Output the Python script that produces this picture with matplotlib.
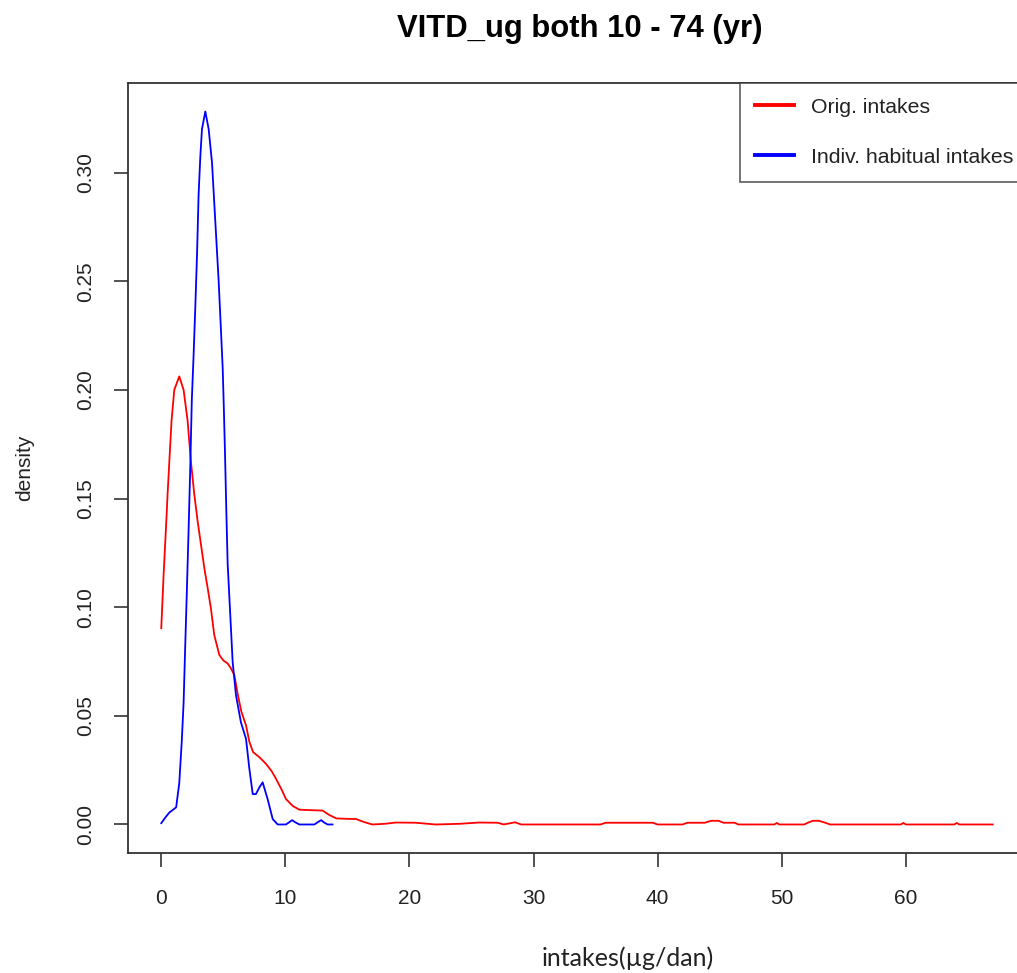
import matplotlib
matplotlib.use("Agg")
import matplotlib.pyplot as plt
from matplotlib.lines import Line2D

# ---- data ----
orig_x = [0.0, 0.19, 0.38, 0.51, 0.65, 0.83, 1.05, 1.45, 1.8, 2.12, 2.39, 2.66, 2.93,
          3.2, 3.47, 3.74, 4.0, 4.27, 4.68, 5.0, 5.35, 5.6, 5.89, 6.16, 6.45, 6.83,
          7.1, 7.4, 7.9, 8.44, 8.9, 9.25, 9.7, 10.05, 10.6, 11.13, 12.0, 13.0, 13.5,
          14.1, 15.0, 15.7, 16.3, 17.0, 18.0, 18.9, 20.5, 22.1, 24.0, 25.6, 27.1,
          27.6, 28.5, 29.0, 35.4, 35.8, 39.6, 40.0, 42.0, 42.4, 43.8, 44.3, 44.9,
          45.3, 46.2, 46.5, 49.4, 49.6, 49.8, 51.8, 52.1, 52.5, 53.0, 53.5, 53.9,
          59.6, 59.8, 60.0, 63.9, 64.1, 64.3, 67.0]
orig_y = [0.0903, 0.115, 0.1365, 0.152, 0.167, 0.186, 0.200, 0.2062, 0.200, 0.186, 0.167, 0.152, 0.1396,
          0.1288, 0.118, 0.1088, 0.0995, 0.0872, 0.078, 0.0755, 0.0741, 0.072, 0.0687, 0.060, 0.052, 0.0456,
          0.038, 0.0333, 0.031, 0.0279, 0.0245, 0.021, 0.016, 0.0117, 0.0085, 0.0068, 0.0066, 0.0064, 0.0045,
          0.0028, 0.0026, 0.0025, 0.0012, 0.0, 0.0003, 0.0009, 0.0008, 0.0, 0.0003, 0.0009, 0.0008,
          0.0, 0.001, 0.0, 0.0, 0.0008, 0.0008, 0.0, 0.0, 0.0008, 0.0008, 0.0017, 0.0017,
          0.0008, 0.0008, 0.0, 0.0, 0.0007, 0.0, 0.0, 0.0008, 0.0017, 0.0017, 0.0008, 0.0,
          0.0, 0.0007, 0.0, 0.0, 0.0007, 0.0, 0.0]

habit_x = [0.0, 0.3, 0.65, 1.0, 1.2, 1.45, 1.65, 1.8, 1.92, 2.05, 2.2, 2.34, 2.46, 2.6,
           2.74, 2.88, 3.01, 3.15, 3.28, 3.55, 3.82, 4.09, 4.35, 4.62, 4.81, 4.95, 5.05,
           5.14, 5.24, 5.35, 5.56, 5.75, 6.02, 6.42, 6.83, 7.1, 7.37, 7.63, 7.9, 8.17,
           8.57, 8.98, 9.38, 10.05, 10.3, 10.54, 10.8, 11.13, 12.34, 12.6, 12.88, 13.1,
           13.4, 13.8]
habit_y = [0.0006, 0.003, 0.0055, 0.007, 0.0079, 0.019, 0.038, 0.056, 0.080, 0.105, 0.135, 0.165, 0.195, 0.215,
           0.2375, 0.262, 0.290, 0.3076, 0.320, 0.3281, 0.320, 0.3045, 0.278, 0.2506, 0.2275, 0.210, 0.190,
           0.170, 0.145, 0.120, 0.0965, 0.075, 0.0595, 0.047, 0.0394, 0.0256, 0.014, 0.014, 0.017, 0.0194,
           0.0117, 0.0025, 0.0, 0.0, 0.001, 0.002, 0.001, 0.0, 0.0, 0.001, 0.002, 0.001,
           0.0, 0.0]

series_labels = ["Orig. intakes", "Indiv. habitual intakes"]
series_colors = ["#ff0000", "#0000ff"]
x_ticks = [0, 10, 20, 30, 40, 50, 60]
y_ticks = [0.00, 0.05, 0.10, 0.15, 0.20, 0.25, 0.30]
title = "VITD_ug both 10 - 74 (yr)"
x_label = "intakes(µg/dan)"
y_label = "density"

# ---- figure ----
plt.rcParams['font.family'] = ['Liberation Sans', 'DejaVu Sans']
W, H = 1017, 973
fig = plt.figure(figsize=(W / 100, H / 100), dpi=100)
ax = fig.add_axes([128 / W, 1 - 853 / H, (1026 - 128) / W, (853 - 83) / H])

ax.plot(orig_x, orig_y, color=series_colors[0], lw=1.3)
ax.plot(habit_x, habit_y, color=series_colors[1], lw=1.3)

ymax = max(max(orig_y), max(habit_y))
xmax = max(max(orig_x), max(habit_x))
ax.set_xlim(-0.04 * xmax, xmax * 1.04)
ax.set_ylim(-0.04 * ymax, ymax * 1.04)

ax.set_xticks(x_ticks)
ax.set_xticklabels([str(t) for t in x_ticks])
ax.set_yticks(y_ticks)
ax.set_yticklabels([f"{t:.2f}" for t in y_ticks], rotation=90, va='center')
ax.tick_params(axis='both', direction='out', length=10, width=1.2, colors='#333333',
               labelsize=15, labelcolor='#222222')
ax.tick_params(axis='x', pad=16)
ax.tick_params(axis='y', pad=14)
for s in ax.spines.values():
    s.set_linewidth(1.3)
    s.set_color('#333333')

fig.text(580 / W, 1 - 29 / H, title, ha='center', va='center', fontsize=22.3,
         fontweight='bold', color='black')
fig.text(628 / W, 1 - 958 / H, x_label, ha='center', va='center', fontsize=18,
         family=['Lato', 'DejaVu Sans'], color='#222222')
fig.text(25 / W, 1 - 468 / H, y_label, ha='center', va='center', rotation=90,
         fontsize=15, color='#222222')

handles = [Line2D([], [], color=c, lw=2.8) for c in series_colors]
leg = ax.legend(handles, series_labels, loc='upper left', bbox_to_anchor=(612 / 898, 1.0),
                fontsize=15.3, frameon=True, fancybox=False, edgecolor='#333333',
                handlelength=1.85, handletextpad=0.8, labelspacing=1.45,
                borderpad=0.7, borderaxespad=0.0, labelcolor='#222222')
leg.get_frame().set_linewidth(1.2)

fig.savefig("out.png", dpi=100, facecolor='white')
